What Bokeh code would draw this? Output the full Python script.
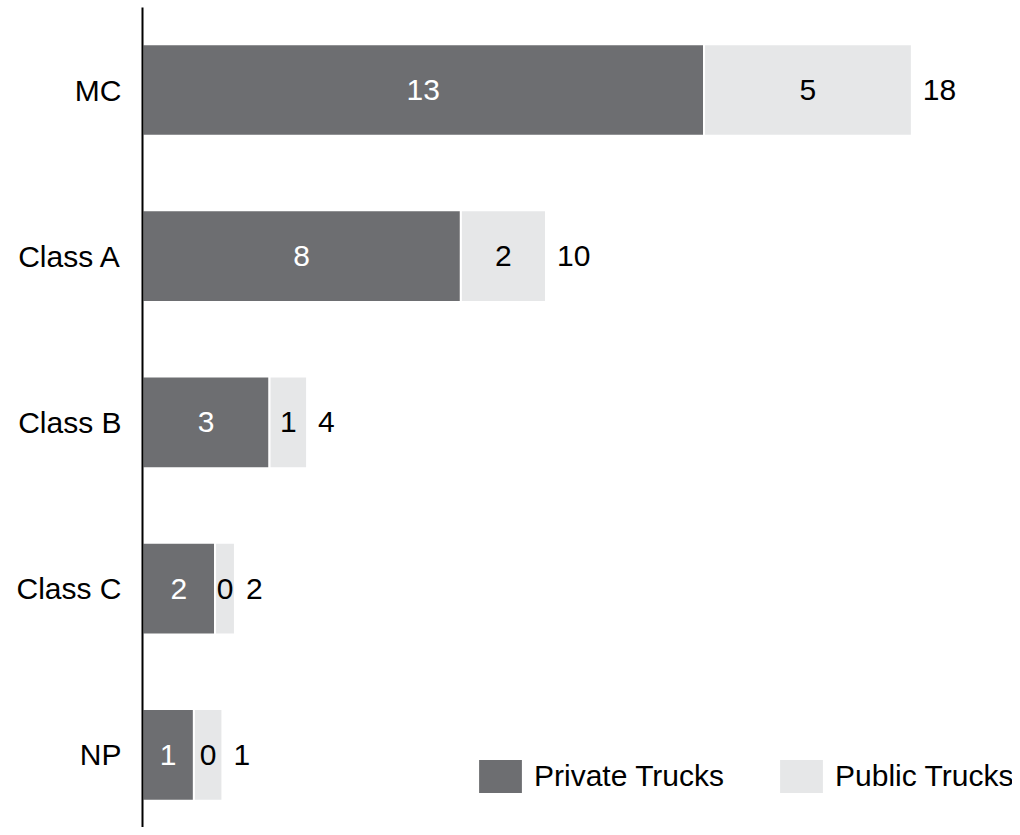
import numpy as np
from bokeh.plotting import figure
from bokeh.models import ColumnDataSource, Range1d, FixedTicker, Legend, LegendItem
from bokeh.core.properties import value
from bokeh.embed import file_html
from bokeh.resources import INLINE

# ---- data ----
categories = ["MC", "Class A", "Class B", "Class C", "NP"]
private_values = [13.0, 7.37, 2.94, 1.68, 1.19]   # bar lengths
public_values = [4.81, 1.97, 0.87, 0.46, 0.66]
private_labels = ["13", "8", "3", "2", "1"]
public_labels = ["5", "2", "1", "0", "0"]
total_labels = ["18", "10", "4", "2", "1"]
series_names = ["Private Trucks", "Public Trucks"]

DARK = "#6d6e71"
LIGHT = "#e6e7e8"
FONT = "Liberation Sans"
FS = "30px"

n = len(categories)
ypos = np.arange(n)[::-1].astype(float)
priv = np.array(private_values)
pub = np.array(public_values)

src = ColumnDataSource(dict(
    y=ypos, priv=priv, pub_left=priv, pub_right=priv + pub,
    priv_mid=priv / 2, pub_mid=priv + pub / 2, total=priv + pub,
    pl=private_labels, ul=public_labels, tl=total_labels,
))

p = figure(width=1012, height=827, output_backend="svg", toolbar_location=None,
           x_range=Range1d(0, 20.14), y_range=Range1d(-0.4374, 4.4964),
           x_axis_location=None,
           min_border_left=142, min_border_right=0, min_border_top=7, min_border_bottom=0)
p.outline_line_color = None
p.grid.visible = False

r1 = p.hbar(y="y", left=0, right="priv", height=0.552, fill_color=DARK,
            line_color="white", line_width=2, source=src)
r2 = p.hbar(y="y", left="pub_left", right="pub_right", height=0.552, fill_color=LIGHT,
            line_color="white", line_width=2, source=src)

p.text(x="priv_mid", y="y", text="pl", text_color="white", text_align="center",
       text_baseline="middle", text_font=value(FONT), text_font_size=value(FS), source=src)
p.text(x="pub_mid", y="y", text="ul", text_color="black", text_align="center",
       text_baseline="middle", text_font=value(FONT), text_font_size=value(FS), source=src)
p.text(x="total", y="y", text="tl", text_color="black", text_align="left", x_offset=11,
       text_baseline="middle", text_font=value(FONT), text_font_size=value(FS), source=src)

ax = p.yaxis[0]
ax.ticker = FixedTicker(ticks=list(ypos))
ax.major_label_overrides = {float(y): c for y, c in zip(ypos, categories)}
ax.major_tick_line_color = None
ax.minor_tick_line_color = None
ax.major_tick_in = 0
ax.major_tick_out = 0
ax.major_label_standoff = 21
ax.major_label_text_font = FONT
ax.major_label_text_font_size = FS
ax.major_label_text_color = "black"
ax.axis_line_color = "black"
ax.axis_line_width = 2

legend = Legend(items=[LegendItem(label=series_names[0], renderers=[r1]),
                       LegendItem(label=series_names[1], renderers=[r2])],
                orientation="horizontal", location=(330, 28.9),
                glyph_width=56, glyph_height=44, label_standoff=6, spacing=49,
                padding=0, margin=0, border_line_color=None, background_fill_alpha=0,
                label_text_font=FONT, label_text_font_size=FS, label_text_color="black")
p.add_layout(legend)

open("out.html", "w").write(file_html(p, INLINE))
